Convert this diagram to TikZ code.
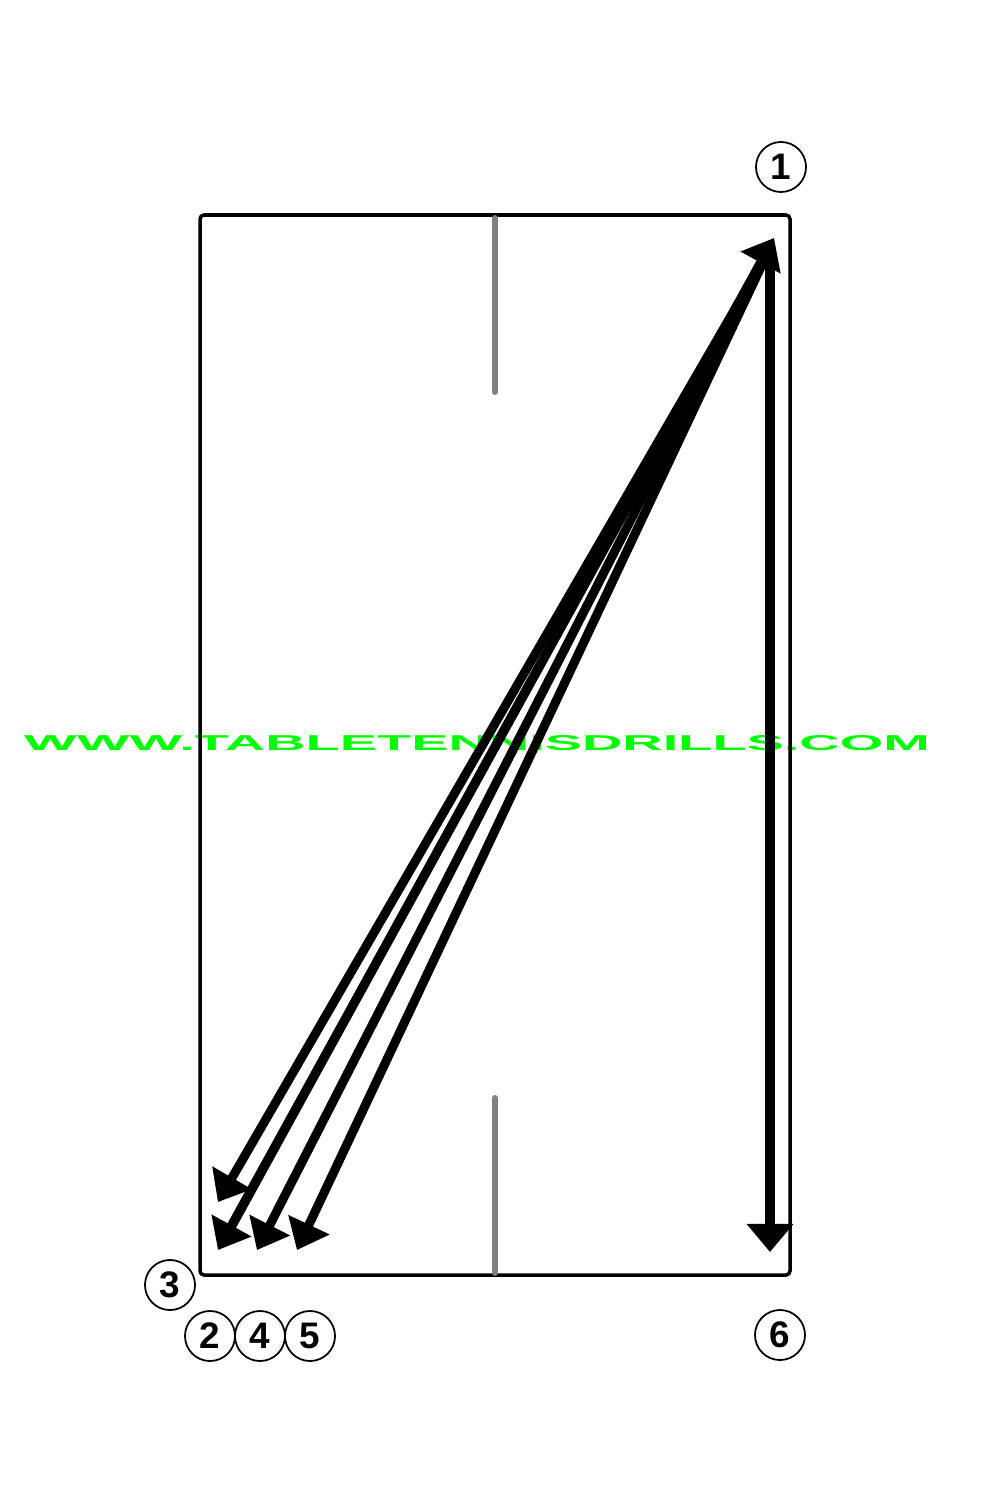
\documentclass[tikz,border=0pt]{standalone}
\usepackage{fontspec}
\setmainfont{Liberation Sans}
\usetikzlibrary{arrows.meta}
\begin{document}
\begin{tikzpicture}[x=0.01cm,y=-0.01cm,
  shot/.style={line width=0.09cm, -{Triangle[length=2.8mm,width=4.4mm]}},
  num/.style={circle, draw, line width=0.5pt, minimum size=0.5cm, inner sep=0pt, font=\fontsize{10.5pt}{12pt}\selectfont\bfseries},
  tablebox/.style={draw, line width=0.035cm, rounded corners=0.04cm},
  netline/.style={draw=gray, line width=0.06cm, line cap=round}]
\useasboundingbox (0,0) rectangle (1000,1500);
% watermark
\node[text=green, inner sep=0pt] (wm) at (477,743) {\resizebox{9.05cm}{0.15cm}{\textbf{WWW.TABLETENNISDRILLS.COM}}};
% table
\draw[tablebox] (200,215) rectangle (790,1275);
\draw[netline] (495,218) -- (495,392);
\draw[netline] (495,1098) -- (495,1273);
% coordinates
\coordinate (top) at (768,252);
\coordinate (toptip) at (774,238);
\coordinate (vtop) at (770,250);
\coordinate (vbot) at (770,1252);
\coordinate (a) at (218,1202);
\coordinate (b) at (218,1250);
\coordinate (c) at (257,1250);
\coordinate (d) at (297,1250);
\coordinate (bs) at (222,1244);
% shots
\draw[shot] (top) -- (a);
\draw[shot] (top) -- (b);
\draw[shot] (top) -- (c);
\draw[shot] (top) -- (d);
\draw[shot] (bs) -- (toptip);
\draw[line width=0.1cm, -{Triangle[length=2.8mm,width=4.5mm]}] (vtop) -- (vbot);
% numbers
\node[num] (n1) at (781,167) {1};
\node[num] (n3) at (170,1285) {3};
\node[num] (n2) at (210,1336) {2};
\node[num] (n4) at (260,1336) {4};
\node[num] (n5) at (310,1336) {5};
\node[num] (n6) at (780,1335) {6};
\end{tikzpicture}
\end{document}
